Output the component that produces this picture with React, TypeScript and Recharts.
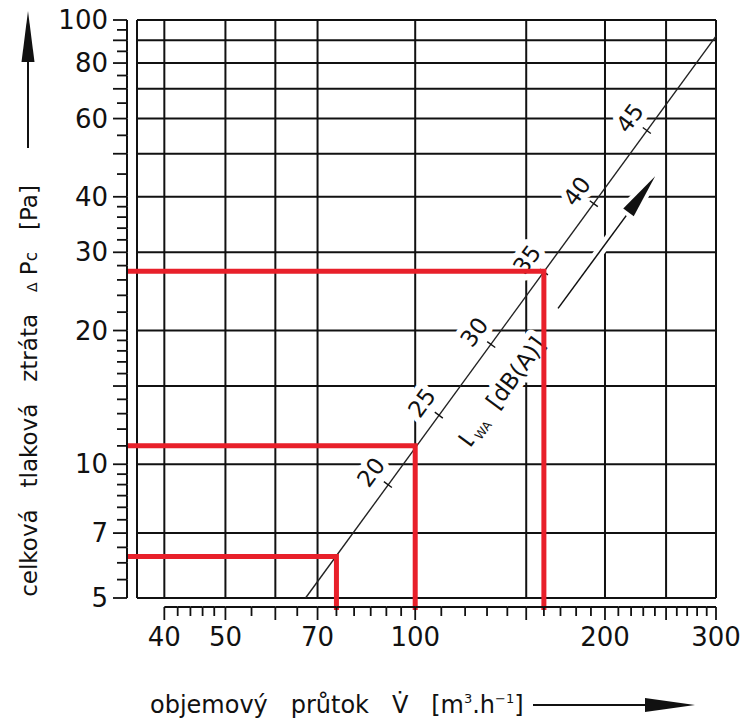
import React from 'react';
import { ComposedChart, XAxis, YAxis, Line, Scatter, ReferenceLine } from 'recharts';

// flow rate [m3/h] vs total pressure loss [Pa], both on log scales
const X_DOMAIN: [number, number] = [36.2, 300];
const Y_DOMAIN: [number, number] = [5, 100];

const X_GRID = [40, 50, 60, 70, 100, 150, 200, 250, 300];
const Y_GRID = [5, 7, 10, 15, 20, 30, 40, 50, 60, 70, 80, 90, 100];

const X_TICKS = [
  40, 42, 44, 46, 48, 50, 55, 60, 65, 70, 75, 80, 85, 90, 95,
  100, 110, 120, 130, 140, 150, 160, 170, 180, 190, 200,
  210, 220, 230, 240, 250, 260, 270, 280, 290, 300,
];
const Y_TICKS = [
  5, 5.5, 6, 6.5, 7, 7.5, 8, 8.5, 9, 9.5, 10,
  11, 12, 13, 14, 15, 16, 17, 18, 19, 20,
  22, 24, 26, 28, 30, 32, 34, 36, 38, 40, 45,
  50, 55, 60, 65, 70, 75, 80, 85, 90, 95, 100,
];
const X_LABELS = [40, 50, 70, 100, 200, 300];
const Y_LABELS = [5, 7, 10, 20, 30, 40, 60, 80, 100];

// characteristic line (end points)
const CURVE = [
  { V: 67, p: 5 },
  { V: 300, p: 92 },
];

// sound power marks along the line, dB(A)
const NOISE = [
  { V: 90.5, p: 9.0, L: 20 },
  { V: 109, p: 12.9, L: 25 },
  { V: 132, p: 18.6, L: 30 },
  { V: 160, p: 27.1, L: 35 },
  { V: 192, p: 38.6, L: 40 },
  { V: 233, p: 56.4, L: 45 },
];

// highlighted working points
const DUTY = [
  { V: 75, p: 6.2 },
  { V: 100, p: 11 },
  { V: 160, p: 27.2 },
];

const W = 747;
const H = 721;
const MARGIN = { top: 20, right: 31, bottom: 73, left: 27 };
const Y_AXIS_W = 110;
const X_AXIS_H = 50;
const PLOT_LEFT = MARGIN.left + Y_AXIS_W;
const PLOT_BOTTOM = H - MARGIN.bottom - X_AXIS_H;
const Y_GAP = 10; // axes sit a bit away from the frame
const X_GAP = 9;
const SLOPE_DEG = -53.7;
const FONT = '"DejaVu Sans", Verdana, sans-serif';
const INK = '#111';
const RED = '#e8202a';
const GRID_W = 2;

const makeXTick = () => {
  let prev: number | null = null;
  return (props: any) => {
    const { x, y, payload, index } = props;
    const v = payload.value;
    const ay = y + X_GAP;
    const long = X_GRID.includes(v);
    const seg =
      index > 0 && prev !== null ? (
        <line x1={prev} x2={x} y1={ay} y2={ay} stroke={INK} strokeWidth={2} />
      ) : null;
    prev = x;
    return (
      <g>
        {seg}
        <line x1={x} x2={x} y1={ay} y2={ay + (long ? 13 : 9)} stroke={INK} strokeWidth={1.8} />
        {X_LABELS.includes(v) && (
          <text
            x={x}
            y={ay + 30}
            textAnchor="middle"
            dominantBaseline="central"
            fontFamily={FONT}
            fontSize={26}
            fill={INK}
          >
            {v}
          </text>
        )}
      </g>
    );
  };
};

const makeYTick = () => {
  let prev: number | null = null;
  return (props: any) => {
    const { x, y, payload, index } = props;
    const v = payload.value;
    const ax = x - Y_GAP;
    const long = Y_GRID.includes(v);
    const seg =
      index > 0 && prev !== null ? (
        <line x1={ax} x2={ax} y1={prev} y2={y} stroke={INK} strokeWidth={2} />
      ) : null;
    prev = y;
    return (
      <g>
        {seg}
        <line x1={ax} x2={ax - (long ? 14 : 10)} y1={y} y2={y} stroke={INK} strokeWidth={1.8} />
        {Y_LABELS.includes(v) && (
          <text
            x={ax - 19}
            y={y}
            textAnchor="end"
            dominantBaseline="central"
            fontFamily={FONT}
            fontSize={26}
            fill={INK}
          >
            {v}
          </text>
        )}
      </g>
    );
  };
};

const halo = {
  stroke: '#fff',
  strokeWidth: 12,
  paintOrder: 'stroke' as const,
  strokeLinejoin: 'round' as const,
};

// arrow + L_WA caption, drawn in the rotated frame of the 35 dB mark
const LevelCaption = () => (
  <g>
    <line x1={-21} y1={33} x2={105} y2={33} stroke="#fff" strokeWidth={10} />
    <line x1={-21} y1={33} x2={105} y2={33} stroke={INK} strokeWidth={1.5} />
    <polygon points="143,33 98,26.5 98,39.5" fill={INK} {...halo} strokeWidth={8} />
    <text x={-186} y={45} fontFamily={FONT} fontSize={23} fill={INK} {...halo} style={{ whiteSpace: 'pre' }}>
      L
      <tspan fontSize={12} dy={4}>
        WA
      </tspan>
      <tspan dy={-4}>{'  [dB(A)]'}</tspan>
    </text>
  </g>
);

const NoiseMark = (props: any) => {
  const { cx, cy, payload } = props;
  return (
    <g transform={`translate(${cx},${cy}) rotate(${SLOPE_DEG})`}>
      <text
        x={0}
        y={-21}
        textAnchor="middle"
        dominantBaseline="central"
        fontFamily={FONT}
        fontSize={23}
        fill={INK}
        {...halo}
      >
        {payload.L}
      </text>
      <line x1={0} y1={-5} x2={0} y2={5} stroke={INK} strokeWidth={1.4} />
      {payload.L === 35 && <LevelCaption />}
    </g>
  );
};

const DutyLine = (props: any) => {
  const { cx, cy } = props;
  return (
    <path
      d={`M${PLOT_LEFT - Y_GAP},${cy}H${cx}V${PLOT_BOTTOM + X_GAP + 3}`}
      fill="none"
      stroke={RED}
      strokeWidth={5}
    />
  );
};

const App = () => {
  const xTick = makeXTick();
  const yTick = makeYTick();

  return (
    <div style={{ position: 'relative', width: W, height: H, background: '#fff' }}>
      <style>{'body{margin:0}'}</style>
      <ComposedChart width={W} height={H} margin={MARGIN}>
        <XAxis
          type="number"
          dataKey="V"
          scale="log"
          domain={X_DOMAIN}
          ticks={X_TICKS}
          interval={0}
          tick={xTick}
          tickLine={false}
          axisLine={false}
          tickSize={0}
          tickMargin={0}
          height={X_AXIS_H}
        />
        <YAxis
          type="number"
          dataKey="p"
          scale="log"
          domain={Y_DOMAIN}
          ticks={Y_TICKS}
          interval={0}
          tick={yTick}
          tickLine={false}
          axisLine={false}
          tickSize={0}
          tickMargin={0}
          width={Y_AXIS_W}
        />
        <ReferenceLine x={X_DOMAIN[0]} stroke={INK} strokeWidth={GRID_W} />
        {X_GRID.map((v) => (
          <ReferenceLine key={`gx${v}`} x={v} stroke={INK} strokeWidth={GRID_W} />
        ))}
        {Y_GRID.map((v) => (
          <ReferenceLine key={`gy${v}`} y={v} stroke={INK} strokeWidth={GRID_W} />
        ))}
        <Line
          data={CURVE}
          dataKey="p"
          stroke="#222"
          strokeWidth={1.4}
          dot={false}
          isAnimationActive={false}
        />
        <Scatter data={NOISE} dataKey="p" shape={NoiseMark} isAnimationActive={false} />
        <Scatter data={DUTY} dataKey="p" shape={DutyLine} isAnimationActive={false} />
      </ComposedChart>

      <svg
        width={W}
        height={H}
        style={{ position: 'absolute', left: 0, top: 0, pointerEvents: 'none' }}
      >
        <line x1={28} y1={148} x2={28} y2={55} stroke={INK} strokeWidth={2} />
        <polygon points="28,11 21.5,62 34.5,62" fill={INK} />
        <text
          transform="translate(37,391) rotate(-90)"
          textAnchor="middle"
          fontFamily={FONT}
          fontSize={23}
          fill={INK}
          style={{ whiteSpace: 'pre' }}
        >
          {'celková   tlaková   ztráta   '}
          <tspan fontSize={14}>Δ</tspan>
          {' P'}
          <tspan fontSize={17}>c</tspan>
          {'   [Pa]'}
        </text>

        <text x={150} y={713} fontFamily={FONT} fontSize={24} fill={INK} style={{ whiteSpace: 'pre' }}>
          {'objemový   průtok   V̇   [m'}
          <tspan fontSize={13} dy={-10}>
            3
          </tspan>
          <tspan dy={10}>.h</tspan>
          <tspan fontSize={13} dy={-10}>
            −1
          </tspan>
          <tspan dy={10}>]</tspan>
        </text>
        <line x1={533} y1={705} x2={650} y2={705} stroke={INK} strokeWidth={2} />
        <polygon points="695,705 645,698 645,712" fill={INK} />
      </svg>
    </div>
  );
};

export default App;
